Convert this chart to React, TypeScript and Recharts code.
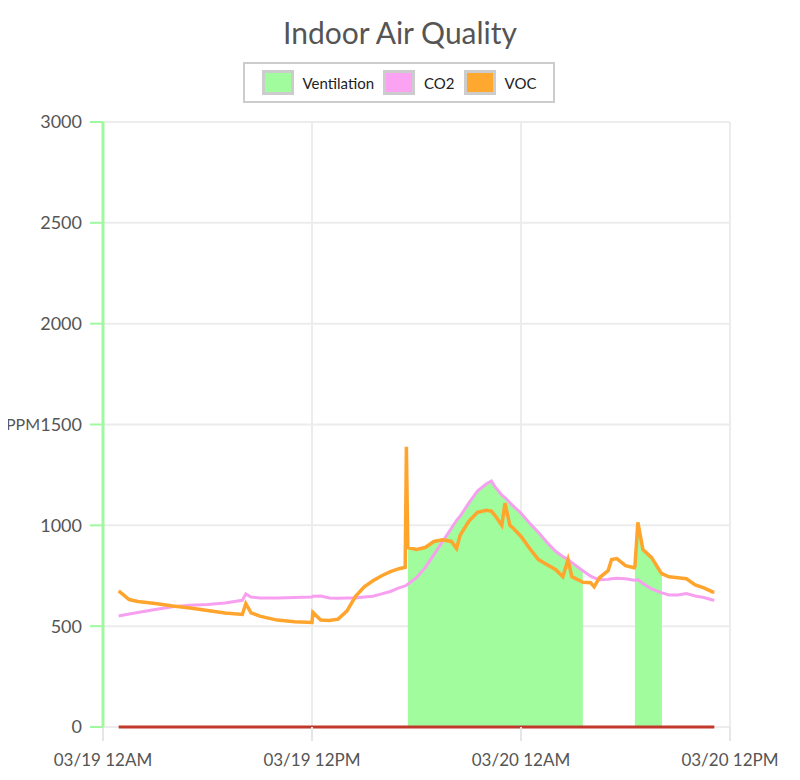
import React from "react";
import {
  Area,
  CartesianGrid,
  ComposedChart,
  Label,
  Line,
  XAxis,
  YAxis,
} from "recharts";

// hours since 03/19 12AM
const hours = [
  0.9, 1.5, 2, 3, 4, 5, 6, 7, 8, 8.2, 8.5, 9, 10, 11, 12, 12.05, 12.5, 13, 13.5,
  14, 14.5, 15, 15.5, 16, 16.5, 17, 17.35, 17.42, 17.5, 18, 18.5, 19, 19.5, 20,
  20.3, 20.5, 21, 21.5, 22, 22.3, 22.5, 22.9, 23.08, 23.36, 23.5, 24, 24.5, 25,
  25.5, 26, 26.4, 26.7, 26.92, 27, 27.5, 27.55, 28, 28.2, 28.5, 29, 29.2, 29.5,
  30, 30.5, 30.54, 30.71, 31, 31.5, 32, 32.09, 32.5, 33, 33.5, 34, 34.5, 35,
  35.1,
];

const co2 = [
  550, 560, 568, 583, 596, 604, 608, 615, 628, 660, 645, 640, 640, 642, 645,
  648, 650, 640, 638, 640, 640, 645, 648, 660, 672, 690, 700, 703, 708, 740,
  790, 855, 920, 985, 1025, 1045, 1110, 1170, 1205, 1220, 1192, 1150, 1138,
  1112, 1100, 1060, 1010, 965, 915, 870, 845, 830, 815, 810, 778, 775, 748, 740,
  730, 732, 735, 738, 735, 728, 728, 730, 712, 685, 668, 665, 655, 655, 662,
  650, 642, 630, 628,
];

const voc = [
  675, 632, 622, 612, 600, 590, 578, 565, 558, 612, 566, 550, 530, 522, 518,
  568, 530, 528, 535, 575, 648, 695, 725, 750, 770, 785, 792, 1390, 890, 880,
  890, 920, 928, 920, 885, 950, 1020, 1065, 1075, 1070, 1050, 1000, 1110, 1000,
  990, 945, 885, 830, 805, 780, 745, 830, 745, 742, 720, 718, 715, 695, 740,
  775, 830, 835, 800, 790, 795, 1015, 880, 840, 770, 760, 745, 740, 735, 705,
  690, 670, 670,
];

const ventilation = [
  null, null, null, null, null, null, null, null, null, null, null, null, null,
  null, null, null, null, null, null, null, null, null, null, null, null, null,
  null, null, 890, 880, 890, 920, 928, 985, 1025, 1045, 1110, 1170, 1205, 1220,
  1192, 1150, 1138, 1112, 1100, 1060, 1010, 965, 915, 870, 845, 830, 815, 810,
  778, 775, null, null, null, null, null, null, null, null, 795, 1015, 880, 840,
  770, 760, null, null, null, null, null, null, null,
];

const baseHours = [0.9, 35.1];
const baseValues = [0, 0];

const tickHours = [0, 12, 24, 36];
const tickLabels = ["03/19 12AM", "03/19 12PM", "03/20 12AM", "03/20 12PM"];
const yTicks = [0, 500, 1000, 1500, 2000, 2500, 3000];

const legendItems = [
  { name: "Ventilation", color: "#a0fc9c" },
  { name: "CO2", color: "#fba2f2" },
  { name: "VOC", color: "#ffa830" },
];

const rows = hours.map((t, i) => ({
  t,
  co2: co2[i],
  voc: voc[i],
  ventilation: ventilation[i],
}));

const baseRows = baseHours.map((t, i) => ({ t, base: baseValues[i] }));

const font = "Lato, 'Open Sans', sans-serif";

function PpmLabel(props: any) {
  const vb = props.viewBox || {};
  return (
    <text
      x={vb.x + 6}
      y={vb.y + vb.height / 2}
      dy="0.35em"
      fill="#555"
      fontSize={16}
      textAnchor="start"
    >
      PPM
    </text>
  );
}

export default function App() {
  return (
    <div
      style={{
        position: "relative",
        width: 800,
        height: 780,
        margin: -8,
        background: "#fff",
        fontFamily: font,
        overflow: "hidden",
      }}
    >
      <div
        style={{
          position: "absolute",
          left: 0,
          top: 0,
          width: 2,
          height: 780,
          background: "#d2d2d2",
        }}
      />
      <div
        style={{
          position: "absolute",
          top: 14,
          left: 0,
          width: 800,
          textAlign: "center",
          fontSize: 30,
          color: "#555",
        }}
      >
        Indoor Air Quality
      </div>
      <div
        style={{
          position: "absolute",
          left: 243,
          top: 62,
          width: 308,
          height: 37,
          border: "2px solid #ccc",
          display: "flex",
          alignItems: "center",
          justifyContent: "center",
          gap: 9,
          fontSize: 15,
          color: "#222",
        }}
      >
        {legendItems.map((item) => (
          <span
            key={item.name}
            style={{ display: "flex", alignItems: "center", gap: 9 }}
          >
            <span
              style={{
                width: 26,
                height: 19,
                background: item.color,
                border: "3px solid #ccc",
              }}
            />
            <span>{item.name}</span>
          </span>
        ))}
      </div>
      <ComposedChart
        width={800}
        height={780}
        data={rows}
        margin={{ top: 122, right: 70, left: 0, bottom: 13 }}
        style={{ fontFamily: font }}
      >
        <CartesianGrid stroke="#ececec" strokeWidth={2} />
        <XAxis
          type="number"
          dataKey="t"
          domain={[0, 36]}
          ticks={tickHours}
          tickFormatter={(v) => tickLabels[tickHours.indexOf(v)]}
          height={40}
          axisLine={false}
          tickLine={{ stroke: "#e6e6e6", strokeWidth: 2 }}
          tickSize={14}
          tickMargin={13}
          tick={{ fill: "#555", fontSize: 17 }}
          interval={0}
        />
        <YAxis
          domain={[0, 3000]}
          ticks={yTicks}
          width={103}
          axisLine={{ stroke: "#a0f8a0", strokeWidth: 3 }}
          tickLine={{ stroke: "#a0f8a0", strokeWidth: 2 }}
          tickSize={13}
          tickMargin={8}
          tick={{ fill: "#555", fontSize: 18 }}
          interval={0}
        >
          <Label content={<PpmLabel />} />
        </YAxis>
        <Area
          dataKey="ventilation"
          name="Ventilation"
          type="linear"
          stroke="none"
          fill="#a0fc9c"
          fillOpacity={1}
          isAnimationActive={false}
        />
        <Line
          dataKey="co2"
          name="CO2"
          type="linear"
          stroke="#f7a0f0"
          strokeWidth={3}
          dot={false}
          isAnimationActive={false}
        />
        <Line
          dataKey="voc"
          name="VOC"
          type="linear"
          stroke="#ffa52e"
          strokeWidth={3.5}
          dot={false}
          isAnimationActive={false}
        />
        <Line
          data={baseRows}
          dataKey="base"
          type="linear"
          stroke="#c0392b"
          strokeWidth={3}
          dot={false}
          legendType="none"
          isAnimationActive={false}
        />
      </ComposedChart>
    </div>
  );
}
